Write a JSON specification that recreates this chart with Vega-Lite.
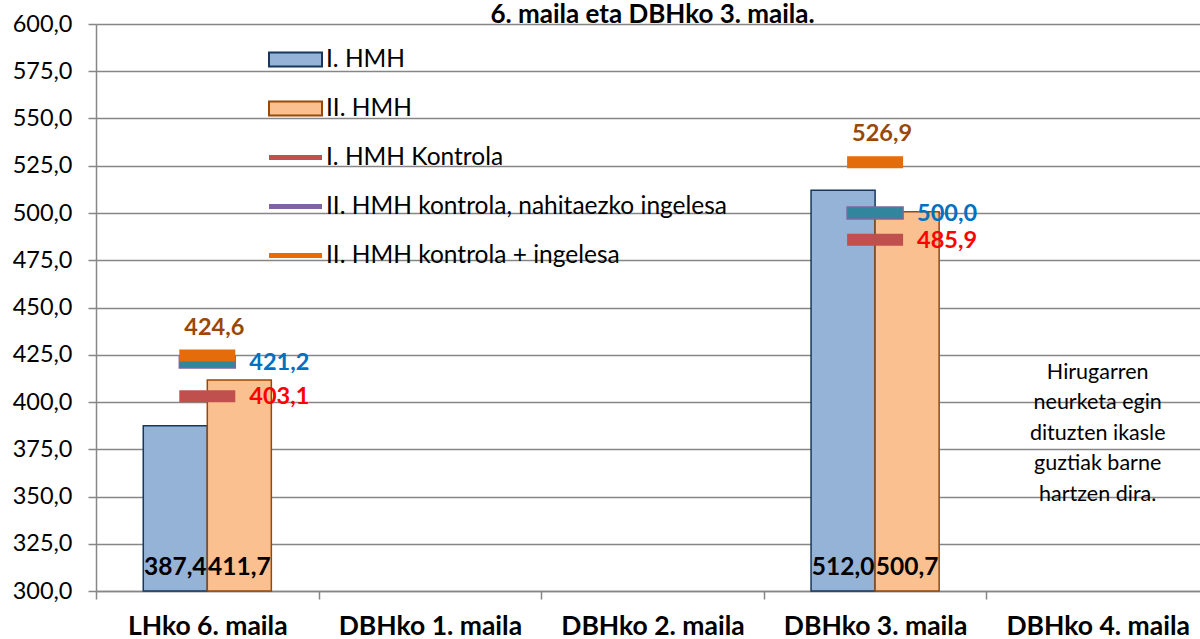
{
  "$schema": "https://vega.github.io/schema/vega-lite/v6.json",
  "autosize": "none",
  "width": 1113,
  "height": 567,
  "padding": {"left": 96, "top": 24, "right": 0, "bottom": 48},
  "background": "white",
  "config": {
    "locale": {"number": {"decimal": ",", "thousands": ".", "grouping": [3], "currency": ["", " €"]}},
    "view": {"stroke": null},
    "font": "Lato"
  },
  "title": {"text": "6. maila eta DBHko 3. maila.", "font": "Lato", "fontSize": 26, "fontWeight": "bold", "color": "black", "anchor": "middle", "offset": 4, "dy": 20},
  "datasets": {
    "bars": [
      {"category": "LHko 6. maila", "series": "I. HMH", "value": 387.4},
      {"category": "LHko 6. maila", "series": "II. HMH", "value": 411.7},
      {"category": "DBHko 3. maila", "series": "I. HMH", "value": 512.0},
      {"category": "DBHko 3. maila", "series": "II. HMH", "value": 500.7}
    ],
    "markers": [
      {"category": "LHko 6. maila", "series": "I. HMH Kontrola", "value": 403.1},
      {"category": "LHko 6. maila", "series": "II. HMH kontrola, nahitaezko ingelesa", "value": 421.2},
      {"category": "LHko 6. maila", "series": "II. HMH kontrola + ingelesa", "value": 424.6},
      {"category": "DBHko 3. maila", "series": "I. HMH Kontrola", "value": 485.9},
      {"category": "DBHko 3. maila", "series": "II. HMH kontrola, nahitaezko ingelesa", "value": 500.0},
      {"category": "DBHko 3. maila", "series": "II. HMH kontrola + ingelesa", "value": 526.9}
    ],
    "note": [
      {"category": "DBHko 4. maila", "value": 415.4, "text": "Hirugarren\nneurketa egin\ndituzten ikasle\nguztiak barne\nhartzen dira."}
    ]
  },
  "encoding": {
    "x": {
      "field": "category", "type": "nominal",
      "sort": ["LHko 6. maila", "DBHko 1. maila", "DBHko 2. maila", "DBHko 3. maila", "DBHko 4. maila"],
      "scale": {"domain": ["LHko 6. maila", "DBHko 1. maila", "DBHko 2. maila", "DBHko 3. maila", "DBHko 4. maila"], "paddingInner": 0, "paddingOuter": 0},
      "axis": {
        "title": null, "labelAngle": 0, "labelFont": "Lato", "labelFontSize": 26.5, "labelFontWeight": "bold", "labelColor": "black",
        "labelPadding": 14, "labelLimit": 0, "tickBand": "extent", "tickSize": 8, "tickColor": "#868686", "tickWidth": 1.5,
        "domainColor": "#868686", "domainWidth": 1.5, "grid": false
      }
    },
    "y": {
      "field": "value", "type": "quantitative",
      "scale": {"domain": [300, 600], "nice": false, "zero": false},
      "axis": {
        "title": null, "values": [300, 325, 350, 375, 400, 425, 450, 475, 500, 525, 550, 575, 600], "format": ".1f",
        "labelFont": "Lato", "labelFontSize": 23.5, "labelColor": "black", "labelPadding": 16,
        "tickSize": 8, "tickColor": "#868686", "tickWidth": 1.5,
        "domainColor": "#868686", "domainWidth": 1.5,
        "grid": true, "gridColor": "#868686", "gridWidth": 1.5
      }
    }
  },
  "layer": [
    {
      "data": {"name": "bars"},
      "mark": {"type": "bar", "strokeWidth": 1.5},
      "encoding": {
        "y2": {"datum": 300},
        "xOffset": {"field": "series", "type": "nominal", "scale": {"domain": ["I. HMH", "II. HMH"], "paddingInner": 0, "paddingOuter": 0.738}},
        "color": {
          "field": "series", "type": "nominal",
          "scale": {
            "domain": ["I. HMH", "II. HMH", "I. HMH Kontrola", "II. HMH kontrola, nahitaezko ingelesa", "II. HMH kontrola + ingelesa"],
            "range": ["#95B3D7", "#FAC090", "#C0504D", "#8064A2", "#E46C0A"]
          },
          "legend": {
            "title": null, "orient": "none", "legendX": 172, "legendY": 8,
            "labelFont": "Lato", "labelFontSize": 24.5, "labelColor": "black", "labelOffset": 3, "labelLimit": 0,
            "rowPadding": 10, "symbolSize": 2809, "symbolOpacity": 1,
            "symbolType": "M-1,-0.26H1V0.26H-1Z",
            "encode": {
              "symbols": {
                "update": {
                  "shape": {"signal": "indexof(['I. HMH','II. HMH'], datum.value) >= 0 ? 'M-1,-0.26H1V0.26H-1Z' : 'M-1,-0.095H1V0.095H-1Z'"},
                  "stroke": {"signal": "datum.value === 'I. HMH' ? '#17375E' : (datum.value === 'II. HMH' ? '#984807' : null)"},
                  "strokeWidth": {"value": 2}
                }
              }
            }
          }
        },
        "stroke": {
          "field": "series", "type": "nominal",
          "scale": {"domain": ["I. HMH", "II. HMH"], "range": ["#17375E", "#984807"]},
          "legend": null
        }
      }
    },
    {
      "data": {"name": "markers"},
      "mark": {"type": "tick", "size": 56, "thickness": 12, "opacity": 1},
      "encoding": {
        "color": {
          "field": "series", "type": "nominal",
          "scale": {"domain": ["I. HMH Kontrola", "II. HMH kontrola, nahitaezko ingelesa", "II. HMH kontrola + ingelesa"], "range": ["#C0504D", "#31859C", "#E46C0A"]},
          "legend": null
        },
        "stroke": {"condition": {"test": "datum.series === 'II. HMH kontrola, nahitaezko ingelesa'", "value": "#8064A2"}, "value": null},
        "strokeWidth": {"value": 1.5}
      }
    },
    {
      "data": {"name": "markers"},
      "transform": [{"filter": "datum.series === 'II. HMH kontrola + ingelesa'"}],
      "mark": {"type": "text", "font": "Lato", "fontSize": 23.5, "fontWeight": "bold", "dy": -28, "dx": 7, "baseline": "middle", "align": "center"},
      "encoding": {
        "text": {"field": "value", "type": "quantitative", "format": ".1f"},
        "color": {"value": "#984807"}
      }
    },
    {
      "data": {"name": "markers"},
      "transform": [{"filter": "datum.series !== 'II. HMH kontrola + ingelesa'"}],
      "mark": {"type": "text", "font": "Lato", "fontSize": 23.5, "fontWeight": "bold", "dx": 42, "dy": 1, "baseline": "middle", "align": "left"},
      "encoding": {
        "text": {"field": "value", "type": "quantitative", "format": ".1f"},
        "color": {"condition": {"test": "datum.series === 'I. HMH Kontrola'", "value": "#FF0000"}, "value": "#0070C0"}
      }
    },
    {
      "data": {"name": "bars"},
      "mark": {"type": "text", "font": "Lato", "fontSize": 24.5, "fontWeight": "bold", "dy": -23, "baseline": "middle", "align": "center", "color": "black"},
      "encoding": {
        "xOffset": {"field": "series", "type": "nominal"},
        "y": {"datum": 300},
        "text": {"field": "value", "type": "quantitative", "format": ".1f"}
      }
    },
    {
      "data": {"name": "note"},
      "mark": {"type": "text", "font": "Lato", "fontSize": 21.5, "lineBreak": "\n", "lineHeight": 30.5, "baseline": "middle", "align": "center", "color": "black"},
      "encoding": {
        "text": {"field": "text"}
      }
    }
  ],
  "resolve": {"scale": {"color": "independent", "stroke": "independent"}}
}
